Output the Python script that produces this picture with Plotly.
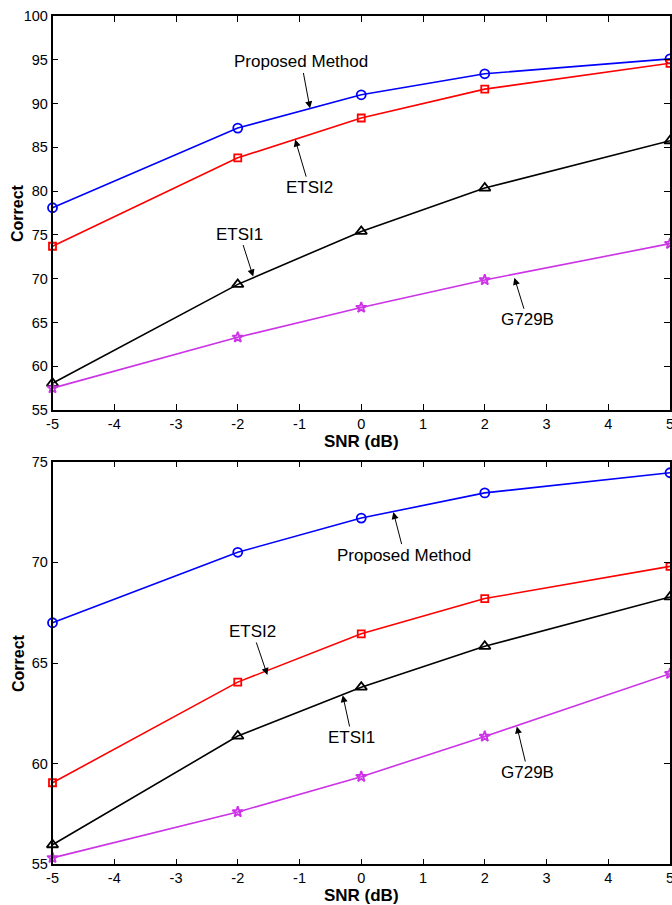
import plotly.graph_objects as go

# SNR levels (dB)
snr = [-5, -2, 0, 2, 5]

# Recognition accuracy, upper panel
top_proposed = [78.1, 87.2, 91.0, 93.4, 95.1]
top_etsi2 = [73.7, 83.8, 88.35, 91.65, 94.6]
top_etsi1 = [58.05, 69.35, 75.4, 80.35, 85.75]
top_g729b = [57.5, 63.3, 66.7, 69.85, 74.0]

# Recognition accuracy, lower panel
bot_proposed = [67.0, 70.5, 72.2, 73.45, 74.45]
bot_etsi2 = [59.05, 64.05, 66.45, 68.2, 69.8]
bot_etsi1 = [55.97, 61.37, 63.8, 65.83, 68.28]
bot_g729b = [55.32, 57.6, 59.35, 61.35, 64.47]

x_ticks = [-5, -4, -3, -2, -1, 0, 1, 2, 3, 4, 5]
x_tick_text = ["-5", "-4", "-3", "-2", "-1", "0", "1", "2", "3", "4", "5"]
top_y_ticks = [55, 60, 65, 70, 75, 80, 85, 90, 95, 100]
bot_y_ticks = [55, 60, 65, 70, 75]

series_names = ["Proposed Method", "ETSI2", "ETSI1", "G729B"]
colors = ["#0000FF", "#FF0000", "#000000", "#CC33E6"]
symbols = ["circle-open", "square-open", "triangle-up-open", "star-open"]
sizes = [9, 7, 10, 8]

FONT = "Arial, 'Liberation Sans', Helvetica, sans-serif"

fig = go.Figure()

panels = [
    ("x", "y", [top_proposed, top_etsi2, top_etsi1, top_g729b]),
    ("x2", "y2", [bot_proposed, bot_etsi2, bot_etsi1, bot_g729b]),
]
for xa, ya, data in panels:
    for name, vals, c, s, sz in zip(series_names, data, colors, symbols, sizes):
        fig.add_trace(go.Scatter(
            x=snr, y=vals, mode="lines+markers", name=name,
            xaxis=xa, yaxis=ya,
            line=dict(color=c, width=1.6),
            marker=dict(symbol=s, size=sz, color=c, line=dict(color=c, width=1.8)),
            showlegend=False, cliponaxis=False,
        ))

# Callout labels: (text, text x, text y, arrow-head x, arrow-head y)
top_labels = [
    ("Proposed Method", -0.97, 94.75, -0.83, 89.45),
    ("ETSI2", -0.84, 80.4, -1.07, 85.9),
    ("ETSI1", -1.97, 75.1, -1.75, 70.25),
    ("G729B", 2.69, 65.3, 2.48, 70.1),
]
bot_labels = [
    ("Proposed Method", 0.70, 70.36, 0.52, 72.5),
    ("ETSI2", -1.76, 66.57, -1.52, 64.4),
    ("ETSI1", -0.15, 61.3, -0.30, 63.4),
    ("G729B", 2.70, 59.56, 2.52, 61.85),
]

annotations = []
for xr, yr, labels in [("x", "y", top_labels), ("x2", "y2", bot_labels)]:
    for text, tx, ty, hx, hy in labels:
        annotations.append(dict(
            text=text, x=hx, y=hy, ax=tx, ay=ty,
            xref=xr, yref=yr, axref=xr, ayref=yr,
            showarrow=True, arrowhead=2, arrowsize=1.4, arrowwidth=1,
            arrowcolor="black", standoff=0, startstandoff=0,
            font=dict(family=FONT, size=17, color="black"),
        ))

title_font = dict(family=FONT, size=16, color="black")

top_dom = [1 - 410 / 905, 1 - 16 / 905]
bot_dom = [1 - 864.3 / 905, 1 - 461.7 / 905]

# Rotated y-axis titles, set close to the tick labels
for dom in (top_dom, bot_dom):
    annotations.append(dict(
        text="<b>Correct</b>", xref="paper", yref="paper",
        x=18 / 672, y=(dom[0] + dom[1]) / 2, textangle=-90,
        xanchor="center", yanchor="middle", showarrow=False,
        font=title_font,
    ))

axis_common = dict(
    showline=True, mirror="allticks", linecolor="black", linewidth=1.5,
    ticks="inside", ticklen=6, tickwidth=1, tickcolor="black",
    showgrid=False, zeroline=False, automargin=False,
    tickfont=dict(family=FONT, size=14.5, color="black"),
)

xdom = [52.5 / 672, 670 / 672]
fig.update_layout(
    width=672, height=905,
    margin=dict(l=0, r=0, t=0, b=0, autoexpand=False),
    paper_bgcolor="white", plot_bgcolor="white",
    xaxis=dict(axis_common, domain=xdom, range=[-5, 5], tickvals=x_ticks,
               ticktext=x_tick_text, ticklabeloverflow="allow", anchor="y",
               title=dict(text="<b>SNR (dB)</b>", font=dict(title_font, size=17),
                          standoff=0)),
    yaxis=dict(axis_common, domain=top_dom, range=[55, 100],
               tickvals=top_y_ticks, anchor="x"),
    xaxis2=dict(axis_common, domain=xdom, range=[-5, 5], tickvals=x_ticks,
                ticktext=x_tick_text, ticklabeloverflow="allow", anchor="y2",
                title=dict(text="<b>SNR (dB)</b>", font=dict(title_font, size=17),
                           standoff=0)),
    yaxis2=dict(axis_common, domain=bot_dom, range=[55, 75],
                tickvals=bot_y_ticks, anchor="x2"),
    annotations=annotations,
)

fig.write_html("out.html")
